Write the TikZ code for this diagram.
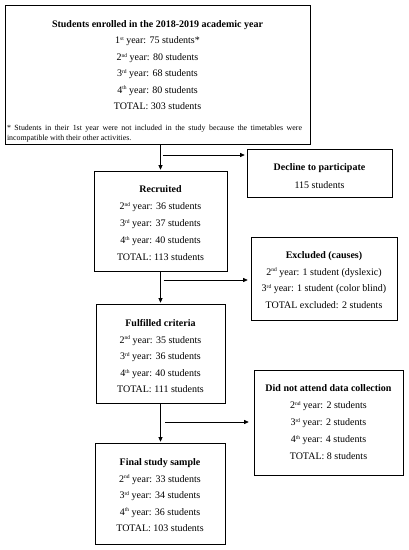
\documentclass[tikz,border=0pt]{standalone}
\usepackage{fontspec}
\setmainfont{Liberation Serif}
\usetikzlibrary{arrows.meta,shadows,calc}
\newcommand\myboxtext[5]{\begin{minipage}[c][#2pt][t]{#1pt}\centering\fontsize{10}{#4}\selectfont\vspace*{#3pt}\strut #5\end{minipage}}
\newcommand\sups[1]{\raisebox{3.2pt}{\fontsize{5.5}{6}\selectfont #1}}
\begin{document}
\begin{tikzpicture}[x=1pt,y=-1pt,
  box/.style={draw=black, line width=0.6pt, fill=white, inner sep=0pt,
    drop shadow={shadow xshift=0.9pt, shadow yshift=-0.9pt, opacity=1, fill=black}},
  arr/.style={line width=0.6pt, -{Triangle[length=4.5pt,width=4pt]}}]
\useasboundingbox (0,0) rectangle (409,550);
\fill[white] (0,0) rectangle (409,550);

\node[box] (top) at (157.5,74.5) {\begin{minipage}[c][139pt][t]{305pt}\centering\fontsize{10}{16.4}\selectfont\vspace*{11pt}\strut\textbf{Students enrolled in the 2018-2019 academic year}\\
1\sups{st} year: 75 students*\\
2\sups{nd} year: 80 students\\
3\sups{rd} year: 68 students\\
4\sups{th} year: 80 students\\
TOTAL: 303 students\strut\par
\vspace{8.3pt}\fontsize{7.9}{10}\selectfont\leftskip=2pt\rightskip=8pt\parfillskip=0pt plus 1fil\noindent\strut * Students in their 1st year were not included in the study because the timetables were\linebreak incompatible with their other activities.\par\end{minipage}};

\node[box] (decline) at (319.5,173) {\myboxtext{145}{48}{8.9}{18}{\textbf{Decline to participate}\\115 students}};

\node[box] (recruited) at (160.5,221) {\myboxtext{133}{100}{9.6}{17}{\textbf{Recruited}\\
2\sups{nd} year: 36 students\\
3\sups{rd} year: 37 students\\
4\sups{th} year: 40 students\\
TOTAL: 113 students}};

\node[box] (excluded) at (324,278.5) {\myboxtext{146}{83}{9.8}{16.7}{\textbf{Excluded (causes)}\\
2\sups{nd} year: 1 student (dyslexic)\\
3\sups{rd} year: 1 student (color blind)\\
TOTAL excluded: 2 students}};

\node[box] (fulfilled) at (160.5,353.5) {\myboxtext{129}{99}{10.9}{16.6}{\textbf{Fulfilled criteria}\\
2\sups{nd} year: 35 students\\
3\sups{rd} year: 36 students\\
4\sups{th} year: 40 students\\
TOTAL: 111 students}};

\node[box] (didnot) at (328.5,422.5) {\myboxtext{149}{105}{9.6}{17}{\textbf{Did not attend data collection}\\
2\sups{nd} year: 2 students\\
3\sups{rd} year: 2 students\\
4\sups{th} year: 4 students\\
TOTAL: 8 students}};

\node[box] (final) at (160,493.5) {\myboxtext{130}{101}{10.95}{16.5}{\textbf{Final study sample}\\
2\sups{nd} year: 33 students\\
3\sups{rd} year: 34 students\\
4\sups{th} year: 36 students\\
TOTAL: 103 students}};

\coordinate (h1) at (162.5,155);
\coordinate (h2) at (163.5,280);
\coordinate (h3) at (165,422);

\draw[arr, shorten >=1pt] (recruited.north |- top.south) -- (recruited.north);
\draw[arr, shorten >=1pt] (recruited.south) -- (fulfilled.north);
\draw[arr, shorten >=1pt] (fulfilled.south) -- (fulfilled.south |- final.north);
\draw[arr, shorten >=2pt] (h1) -- (h1 -| decline.west);
\draw[arr, shorten >=3pt] (h2) -- (h2 -| excluded.west);
\draw[arr, shorten >=5pt] (h3) -- (h3 -| didnot.west);
\end{tikzpicture}
\end{document}
